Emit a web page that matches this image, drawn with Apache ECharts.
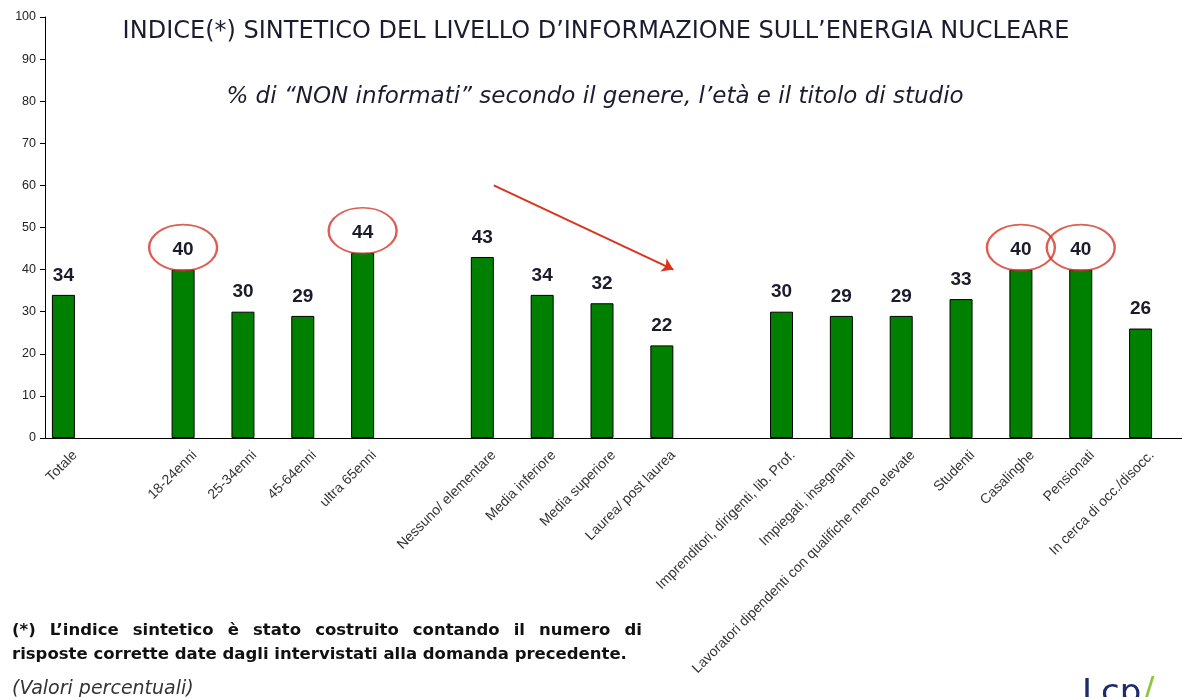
<!DOCTYPE html>
<html>
<head>
<meta charset="utf-8">
<script src="https://cdn.jsdelivr.net/npm/echarts@6/dist/echarts.min.js"></script>
<style>
  html, body { margin: 0; padding: 0; background: #fff; }
  #chart { width: 1182px; height: 697px; }
</style>
</head>
<body>
<div id="chart"></div>
<script>
// categorie (le stringhe vuote sono gli spazi tra i gruppi)
const categories = [
  'Totale', '',
  '18-24enni', '25-34enni', '45-64enni', 'ultra 65enni', '',
  'Nessuno/ elementare', 'Media inferiore', 'Media superiore', 'Laurea/ post laurea', '',
  'Imprenditori, dirigenti, lib. Prof.', 'Impiegati, insegnanti',
  'Lavoratori dipendenti con qualifiche meno elevate', 'Studenti', 'Casalinghe',
  'Pensionati', 'In cerca di occ./disocc.'
];
const values = [34, '-', 40, 30, 29, 44, '-', 43, 34, 32, 22, '-', 30, 29, 29, 33, 40, 40, 26];
// valori cerchiati in rosso
const circled = ['18-24enni', 'ultra 65enni', 'Casalinghe', 'Pensionati'];
// freccia rossa: [categoria, valore]
const arrowFrom = ['Nessuno/ elementare', 60];
const arrowTo = ['Laurea/ post laurea', 40];

const title = 'INDICE(*) SINTETICO DEL LIVELLO D\u2019INFORMAZIONE SULL\u2019ENERGIA NUCLEARE';
const subtitle = '% di \u201cNON informati\u201d secondo il genere, l\u2019et\u00e0 e il titolo di studio';
const noteLine1 = '(*) L\u2019indice sintetico \u00e8 stato costruito contando il numero di';
const noteLine2 = 'risposte corrette date dagli intervistati alla domanda precedente.';
const noteUnit = '(Valori percentuali)';

// testo giustificato per la nota (parola per parola)
const noteFont = 'bold 16.5px "DejaVu Sans"';
const ctx = document.createElement('canvas').getContext('2d');
ctx.font = noteFont;
function justified(text, x, y, width) {
  const words = text.split(' ');
  const widths = words.map(w => ctx.measureText(w).width);
  const total = widths.reduce((a, b) => a + b, 0);
  const gap = (width - total) / (words.length - 1);
  let cx = x;
  return words.map((w, i) => {
    const el = {
      type: 'text', x: cx, y: y,
      style: { text: w, font: noteFont, fill: '#111', textVerticalAlign: 'middle' }
    };
    cx += widths[i] + gap;
    return el;
  });
}

const circleData = categories
  .map((c, i) => circled.includes(c) ? [i, values[i]] : null)
  .filter(Boolean);

const myChart = echarts.init(document.getElementById('chart'));
const option = {
  backgroundColor: '#fff',
  animation: false,
  grid: { left: 45, right: 0, top: 17, bottom: 259 },
  xAxis: {
    type: 'category',
    data: categories,
    axisLine: { lineStyle: { color: '#000', width: 1 } },
    axisTick: { inside: true, length: 4, lineStyle: { color: '#000' } },
    axisLabel: {
      interval: 0, rotate: 45, margin: 15,
      fontSize: 14, color: '#333', fontFamily: 'Liberation Sans'
    }
  },
  yAxis: {
    type: 'value',
    min: 0, max: 100, interval: 10,
    splitLine: { show: false },
    axisLine: { show: true, lineStyle: { color: '#000', width: 1 } },
    axisTick: { show: true, length: 5, lineStyle: { color: '#000' } },
    axisLabel: { fontSize: 12.5, color: '#222', margin: 9, fontFamily: 'Liberation Sans' }
  },
  series: [
    {
      name: 'NON informati',
      type: 'bar',
      data: values,
      barWidth: 23,
      barGap: '0%',
      itemStyle: { color: '#008000', borderColor: '#000', borderWidth: 1 },
      label: {
        show: true, position: 'top', distance: 10,
        fontSize: 19, fontWeight: 'bold', color: '#1b1b2b', fontFamily: 'Liberation Sans'
      }
    },
    {
      // serie vuota: sposta le barre a sinistra nella categoria
      name: 'spazio',
      type: 'bar',
      data: values.map(() => '-'),
      barWidth: 23
    },
    {
      name: 'cerchi',
      type: 'scatter',
      data: circleData,
      symbol: 'circle',
      symbolSize: [68, 46],
      symbolOffset: [-11.5, -22],
      silent: true,
      z: 5,
      itemStyle: { color: 'rgba(0,0,0,0)', borderColor: '#d2372a', borderWidth: 2 },
      markLine: {
        silent: true,
        symbol: ['none', 'arrow'],
        symbolSize: 11,
        label: { show: false },
        lineStyle: { color: '#d8341e', width: 2, type: 'solid' },
        data: [[{ coord: arrowFrom }, { coord: arrowTo }]]
      }
    }
  ],
  graphic: [
    {
      type: 'text', x: 596, y: 32,
      style: {
        text: title, font: '24px "DejaVu Sans"', fill: '#1c1c30',
        textAlign: 'center', textVerticalAlign: 'middle'
      }
    },
    {
      type: 'text', x: 595, y: 97,
      style: {
        text: subtitle, font: 'italic 23px "DejaVu Sans"', fill: '#1c1c30',
        textAlign: 'center', textVerticalAlign: 'middle'
      }
    },
    ...justified(noteLine1, 12, 631, 630),
    {
      type: 'text', x: 12, y: 655,
      style: { text: noteLine2, font: noteFont, fill: '#111', textVerticalAlign: 'middle' }
    },
    {
      type: 'text', x: 12, y: 689,
      style: { text: noteUnit, font: 'italic 19px "DejaVu Sans"', fill: '#333', textVerticalAlign: 'middle' }
    },
    {
      type: 'text', x: 1082, y: 677,
      style: { text: 'Lcp', font: '34px "DejaVu Sans"', fill: '#1f2a6b' }
    },
    {
      type: 'text', x: 1143, y: 675,
      style: { text: '/', font: '34px "DejaVu Sans"', fill: '#8cc63f' }
    }
  ]
};
myChart.setOption(option);
</script>
</body>
</html>
